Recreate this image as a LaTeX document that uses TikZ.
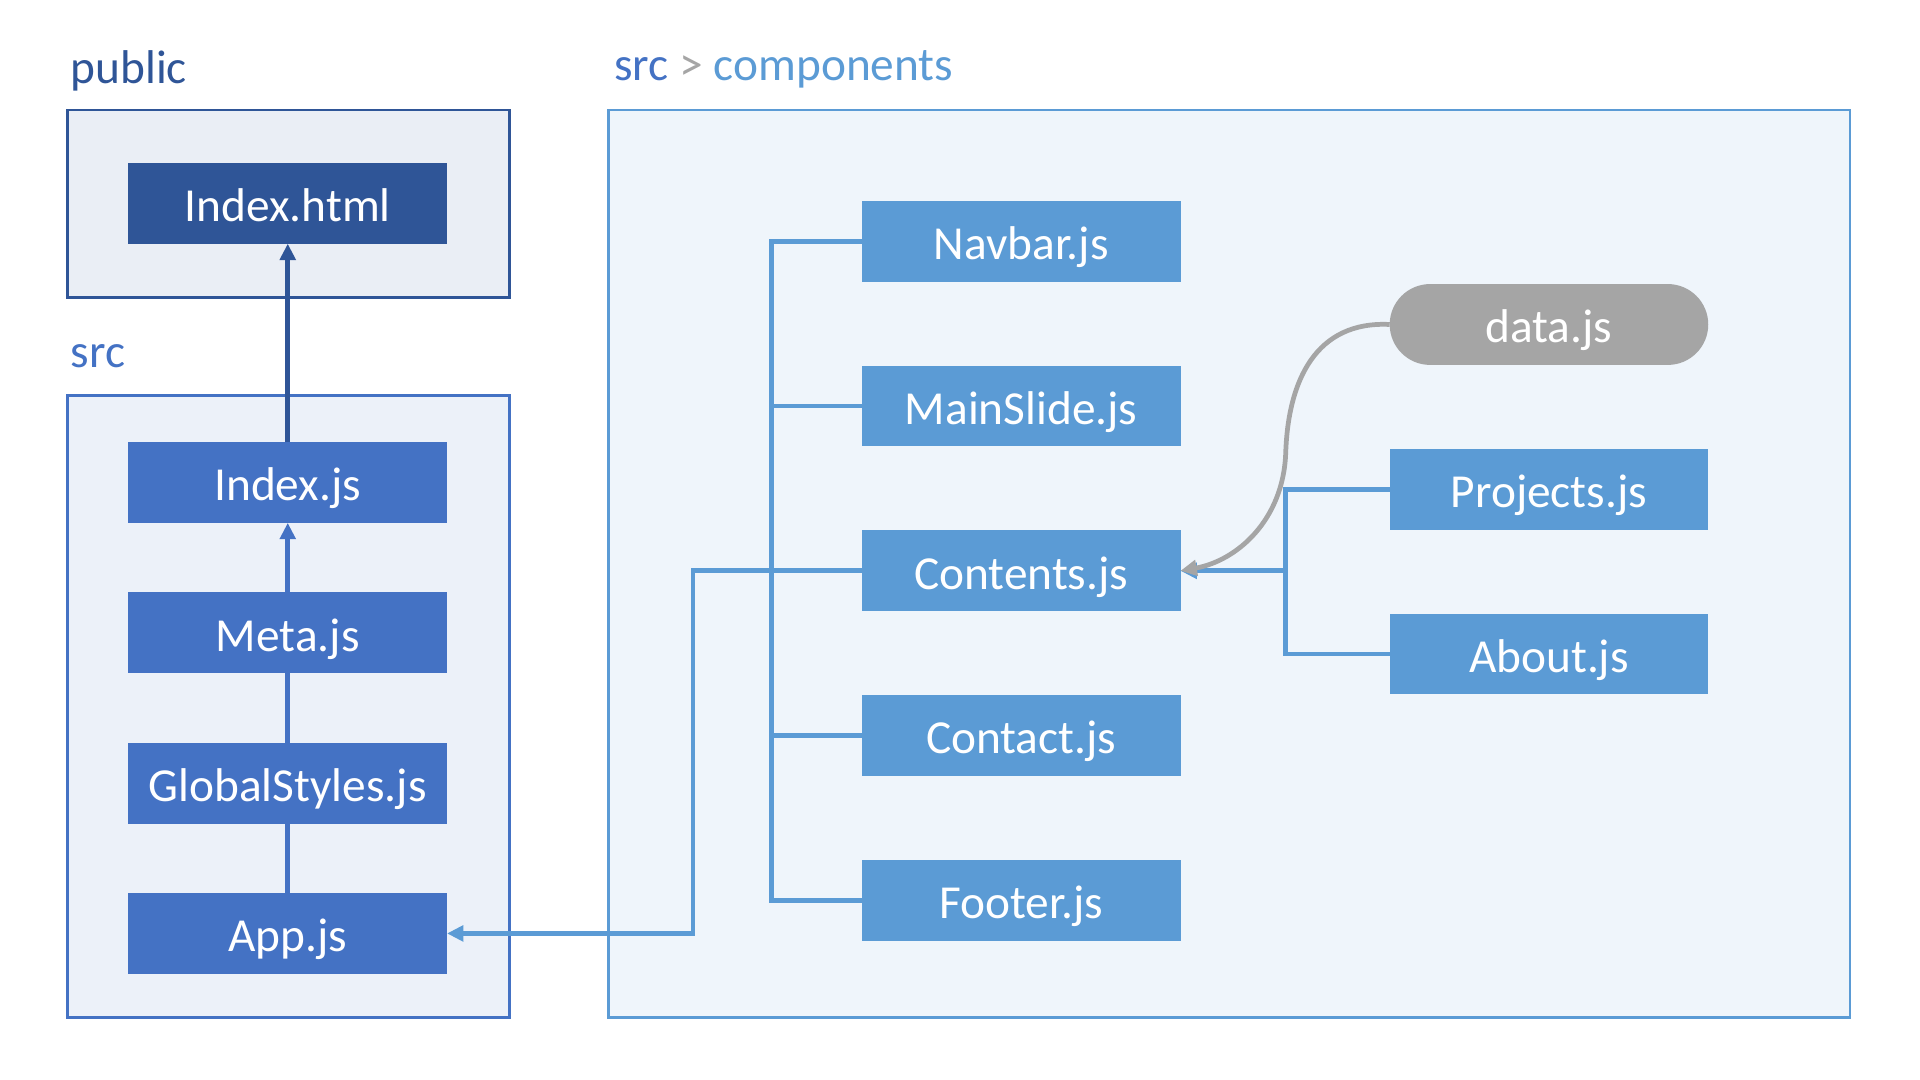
\documentclass[tikz,border=0pt]{standalone}
\usepackage{fontspec}
\setmainfont{Carlito}
\usetikzlibrary{positioning, arrows.meta}

\definecolor{htmlblue}{HTML}{2F5597}
\definecolor{srcblue}{HTML}{4472C4}
\definecolor{compblue}{HTML}{5B9BD5}
\definecolor{datagray}{HTML}{A5A5A5}

\begin{document}
\begin{tikzpicture}[
    x=0.01cm, y=-0.01cm,
    node distance=0.685cm, % vertical spacing of the component boxes
    every node/.style={font=\fontsize{11}{13}\selectfont},
    file/.style={minimum width=2.6cm, minimum height=0.66cm, inner sep=0pt, outer sep=0pt,
        text height=8.5pt, text depth=0pt, text=white},
    title/.style={anchor=base west, inner sep=0pt},
    panel/.style={line width=0.6pt},
    link/.style={line width=1.1pt},
    tip/.style={-{Triangle[length=3.8pt, width=3.6pt]}}
]
    \useasboundingbox (0,0) rectangle (1568,882);

    % Panels and their titles
    \draw[panel, draw=htmlblue, fill=htmlblue!10] (55,90) rectangle (416,243);
    \draw[panel, draw=srcblue, fill=srcblue!10] (55,323) rectangle (416,831);
    \draw[panel, draw=compblue, fill=compblue!10] (497,90) rectangle (1511,831);

    \node[title, text=htmlblue] (publictitle) at (57,68) {public};
    \node[title, text=srcblue] (srctitle) at (57,300) {src};
    \node[title] (comptitle) at (501,66)
        {\textcolor{srcblue}{src} \textcolor{datagray}{>} \textcolor{compblue}{components}};

    % Place the nodes
    \node[file, fill=htmlblue] (indexhtml) at (235,166) {Index.html};
    \node[file, fill=srcblue] (indexjs) at (235,394) {Index.js};
    \node[file, fill=srcblue] (meta) [below=0.567cm of indexjs] {Meta.js};
    \node[file, fill=srcblue] (globalstyles) [below=0.567cm of meta] {GlobalStyles.js};
    \node[file, fill=srcblue] (app) [below=0.567cm of globalstyles] {App.js};

    \node[file, fill=compblue] (navbar) at (834,197) {Navbar.js};
    \node[file, fill=compblue] (mainslide) [below=of navbar] {MainSlide.js};
    \node[file, fill=compblue] (contents) [below=of mainslide] {Contents.js};
    \node[file, fill=compblue] (contact) [below=of contents] {Contact.js};
    \node[file, fill=compblue] (footer) [below=of contact] {Footer.js};

    \node[file, fill=datagray, rounded corners=0.33cm] (data) at (1265,265) {data.js};
    \node[file, fill=compblue] (projects) [below=of data] {Projects.js};
    \node[file, fill=compblue] (about) [below=of projects] {About.js};

    \coordinate (trunk) at (630,0);
    \coordinate (drop) at (566,0);
    \coordinate (split) at (1050,0);

    % Draw the edges
    \draw[link, draw=htmlblue, tip] (indexjs) -- (indexhtml);
    \draw[link, draw=srcblue, tip] (meta) -- (indexjs);
    \draw[link, draw=srcblue] (globalstyles) -- (meta);
    \draw[link, draw=srcblue] (app) -- (globalstyles);

    \draw[link, draw=compblue] (navbar.west) -| (trunk |- footer.west) -- (footer.west);
    \draw[link, draw=compblue] (mainslide.west) -- (trunk |- mainslide.west);
    \draw[link, draw=compblue] (contact.west) -- (trunk |- contact.west);
    \draw[link, draw=compblue, tip] (contents.west) -| (drop |- app.east) -- (app.east);

    \draw[link, draw=compblue] (projects.west) -| (split |- about.west) -- (about.west);
    \draw[link, draw=compblue, tip] (split |- contents.east) -- (contents.east);
    \draw[link, draw=datagray, tip] (data.west) .. controls (1075,262) and (1052,310) .. (1050,370)
        .. controls (1048,425) and (1010,458) .. (contents.east);
\end{tikzpicture}
\end{document}
